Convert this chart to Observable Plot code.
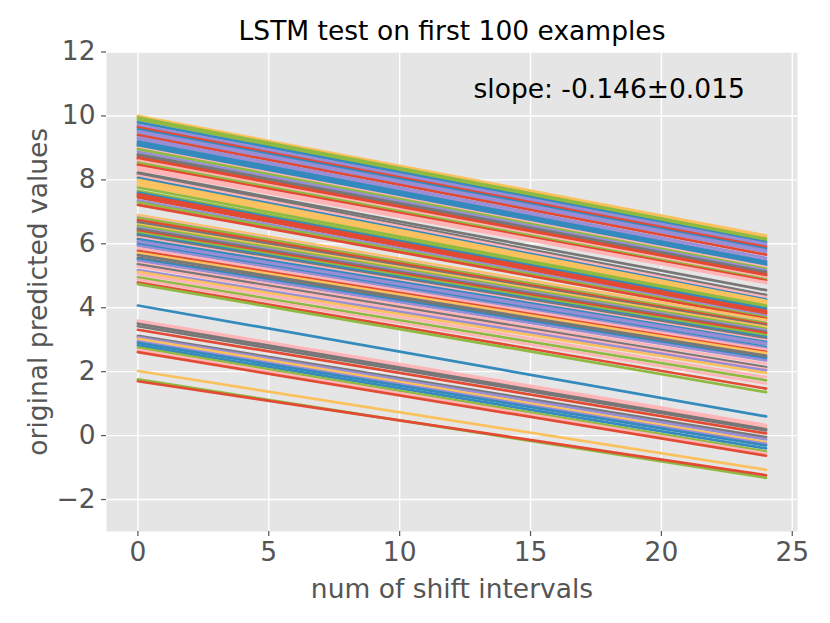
<!DOCTYPE html>
<html><head><meta charset="utf-8">
<script src="https://cdn.jsdelivr.net/npm/d3@7"></script>
<script src="https://cdn.jsdelivr.net/npm/@observablehq/plot@0.6"></script>
<style>body{margin:0;background:#fff}</style>
</head><body><div id="chart"></div>
<script>
const titleText = "LSTM test on first 100 examples";
const slopeText = "slope: -0.146\u00b10.015";
const xLabel = "num of shift intervals";
const yLabel = "original predicted values";
const xTicks = [0, 5, 10, 15, 20, 25];
const yTicks = [-2, 0, 2, 4, 6, 8, 10, 12];
const shiftIntervals = [0, 24];

const colorNames = ["c-red", "c-blue", "c-purple", "c-gray", "c-yellow", "c-green", "c-pink"];
const colorHex = ["#E24A33", "#348ABD", "#988ED5", "#777777", "#FBC15E", "#8EBA42", "#FFB5B8"];

// upper group of lines: value at shift 0, value at shift 24, colour
const upperStart = [10.00, 9.97, 9.95, 9.88, 9.80, 9.72, 9.68, 9.64, 9.58, 9.53,
  9.46, 9.40, 9.33, 9.27, 9.20, 9.14, 9.10, 9.06, 9.00, 8.96,
  8.88, 8.80, 8.75, 8.70, 8.65, 8.60, 8.54, 8.47, 8.40, 8.32,
  8.23, 8.18, 8.13, 8.06, 8.00, 7.92, 7.84, 7.76, 7.66, 7.60,
  7.55, 7.50, 7.45, 7.36, 7.30, 7.22, 6.90, 6.86, 6.82, 6.74,
  6.67, 6.60, 6.56, 6.50, 6.46, 6.40, 6.35, 6.30, 6.25, 6.20,
  6.15, 6.08, 6.04, 5.98, 5.94, 5.86, 5.78, 5.72, 5.65, 5.57,
  5.52, 5.47, 5.40, 5.36, 5.29, 5.18, 5.12, 5.05, 4.95, 4.88,
  4.79, 4.74];
const upperEnd = [6.26, 6.22, 6.16, 6.10, 6.05, 6.00, 5.95, 5.90, 5.84, 5.79,
  5.74, 5.66, 5.56, 5.48, 5.44, 5.40, 5.36, 5.32, 5.27, 5.22,
  5.17, 5.12, 5.08, 5.04, 5.01, 4.94, 4.89, 4.85, 4.80, 4.77,
  4.55, 4.40, 4.33, 4.26, 4.22, 4.18, 4.12, 4.07, 4.02, 3.97,
  3.90, 3.85, 3.81, 3.75, 3.70, 3.66, 3.62, 3.55, 3.52, 3.48,
  3.44, 3.40, 3.34, 3.29, 3.24, 3.20, 3.14, 3.08, 3.03, 2.98,
  2.93, 2.89, 2.85, 2.77, 2.73, 2.69, 2.62, 2.58, 2.50, 2.46,
  2.40, 2.35, 2.25, 2.14, 2.08, 2.04, 1.96, 1.83, 1.73, 1.63,
  1.47, 1.36];
const upperColor = ["yellow", "yellow", "green", "green", "blue", "purple", "purple", "red", "blue", "purple",
  "purple", "red", "purple", "purple", "blue", "blue", "blue", "blue", "pink", "green",
  "purple", "gray", "gray", "red", "red", "pink", "green", "red", "pink", "pink",
  "gray", "gray", "pink", "blue", "yellow", "yellow", "yellow", "green", "green", "blue",
  "red", "red", "red", "purple", "green", "red", "yellow", "pink", "green", "red",
  "gray", "yellow", "green", "purple", "gray", "red", "green", "blue", "gray", "pink",
  "blue", "purple", "purple", "blue", "purple", "pink", "red", "yellow", "gray", "gray",
  "blue", "purple", "pink", "gray", "pink", "purple", "yellow", "pink", "green", "pink",
  "red", "green"];

// lower group of lines
const lowerStart = [4.07, 3.60, 3.56, 3.50, 3.42, 3.31, 3.12, 3.08, 3.03, 2.95,
  2.90, 2.82, 2.75, 2.68, 2.61, 2.02, 1.76, 1.70];
const lowerEnd = [0.60, 0.33, 0.26, 0.20, 0.16, 0.07, -0.05, -0.12, -0.21, -0.26,
  -0.31, -0.40, -0.50, -0.56, -0.63, -1.07, -1.32, -1.24];
const lowerColor = ["blue", "pink", "pink", "gray", "gray", "red", "gray", "purple", "yellow", "purple",
  "blue", "blue", "green", "pink", "red", "yellow", "green", "red"];

const starts = upperStart.concat(lowerStart);
const ends = upperEnd.concat(lowerEnd);
const colors = upperColor.concat(lowerColor).map(c => "c-" + c);

const rows = [];
starts.forEach((s, i) => {
  rows.push({id: i, x: shiftIntervals[0], y: s, c: colors[i]});
  rows.push({id: i, x: shiftIntervals[1], y: ends[i], c: colors[i]});
});

const fmtY = d => d < 0 ? "\u2212" + Math.abs(d) : String(d);
const FS = 26.5;

const chart = Plot.plot({
  width: 830,
  height: 623,
  marginLeft: 106,
  marginRight: 33,
  marginTop: 51.5,
  marginBottom: 92,
  style: {fontFamily: "DejaVu Sans", fontSize: FS + "px", background: "white", color: "#555555"},
  x: {domain: [-1.2, 25.2]},
  y: {domain: [-3, 12]},
  color: {type: "ordinal", domain: colorNames, range: colorHex},
  marks: [
    Plot.frame({fill: "#E5E5E5", stroke: null}),
    Plot.gridX(xTicks, {stroke: "white", strokeOpacity: 1, strokeWidth: 1.4}),
    Plot.gridY(yTicks, {stroke: "white", strokeOpacity: 1, strokeWidth: 1.4}),
    Plot.axisX(xTicks, {label: null, tickSize: 5, tickPadding: 6, color: "#555555", fontSize: FS, strokeWidth: 1.2}),
    Plot.axisY(yTicks, {label: null, tickSize: 5, tickPadding: 6, color: "#555555", fontSize: FS, strokeWidth: 1.2, tickFormat: fmtY}),
    Plot.line(rows, {x: "x", y: "y", z: "id", stroke: "c", strokeWidth: 2.7}),
    Plot.text([titleText], {frameAnchor: "top", textAnchor: "middle", lineAnchor: "middle", dy: -20, fill: "black", fontSize: FS}),
    Plot.text([slopeText], {frameAnchor: "top-left", textAnchor: "start", lineAnchor: "middle", dx: 367, dy: 38, fill: "black", fontSize: FS}),
    Plot.text([xLabel], {frameAnchor: "bottom", textAnchor: "middle", lineAnchor: "middle", dy: 58.5, fill: "#555555", fontSize: FS}),
    Plot.text([yLabel], {frameAnchor: "left", textAnchor: "middle", lineAnchor: "middle", rotate: -90, dx: -67.5, fill: "#555555", fontSize: FS})
  ]
});
document.getElementById("chart").appendChild(chart);
</script>
</body></html>
